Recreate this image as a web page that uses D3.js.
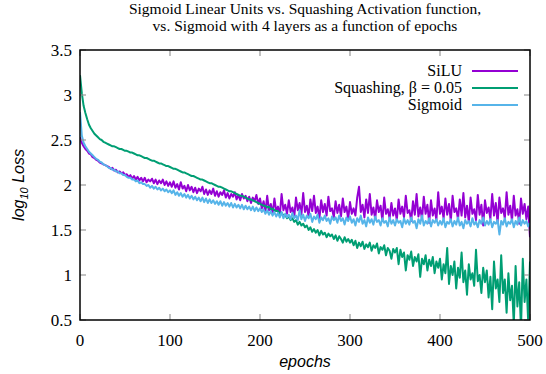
<!DOCTYPE html>
<html>
<head>
<meta charset="utf-8">
<script src="https://cdn.jsdelivr.net/npm/d3@7"></script>
<style>
  body { margin: 0; background: #fff; }
  svg { display: block; }
  .tick-label { font-family: "Liberation Serif", "Times New Roman", serif; font-size: 17px; fill: #000; }
  .legend-label { font-family: "Liberation Serif", "Times New Roman", serif; font-size: 16px; fill: #000; }
  .title { font-family: "Liberation Serif", "Times New Roman", serif; font-size: 15.5px; fill: #000; }
  .axis-title { font-family: "Liberation Sans", Arial, sans-serif; font-size: 16px; font-style: italic; fill: #000; }
</style>
</head>
<body>
<svg width="546" height="374"></svg>
<script>
// epochs sampled every 2
var epochs = d3.range(0, 501, 2);

var seriesNames = ["SiLU", "Squashing, \u03b2 = 0.05", "Sigmoid"];
var seriesColors = ["#9400d3", "#009e73", "#56b4e9"];

var silu = [
  2.53,2.47,2.43,2.40,2.38,2.35,2.34,2.31,2.30,2.28,2.27,2.25,2.24,2.23,2.22,2.21,2.20,2.18,2.19,2.16,2.17,2.14,2.15,2.13,2.14,
  2.11,2.12,2.09,2.11,2.07,2.10,2.06,2.09,2.05,2.08,2.04,2.08,2.03,2.06,2.04,2.07,2.02,2.06,2.01,2.05,2.02,2.06,2.00,2.04,1.99,
  2.03,1.98,2.04,1.97,2.01,1.95,2.03,1.96,1.99,1.93,2.00,1.94,1.98,1.92,1.97,1.91,1.96,1.93,1.98,1.90,1.95,1.89,1.94,1.90,1.96,
  1.88,1.93,1.87,1.92,1.89,1.94,1.86,1.91,1.85,1.90,1.87,1.92,1.84,1.89,1.83,1.90,1.85,1.88,1.82,1.87,1.80,1.86,1.82,1.89,1.79,
  1.85,1.74,1.82,1.70,1.88,1.72,1.79,1.68,1.85,1.71,1.76,1.66,1.90,1.72,1.78,1.68,1.83,1.70,1.75,1.64,1.86,1.72,1.80,1.67,1.91,
  1.70,1.77,1.65,1.84,1.71,1.88,1.69,1.76,1.63,1.83,1.70,1.79,1.66,1.87,1.71,1.74,1.64,1.82,1.69,1.78,1.65,1.85,1.70,1.76,1.62,
  1.81,1.68,1.74,1.66,1.86,1.98,1.70,1.78,1.64,1.84,1.69,1.90,1.67,1.75,1.62,1.83,1.70,1.77,1.60,1.86,1.68,1.73,1.63,1.80,1.66,
  1.74,1.61,1.84,1.68,1.76,1.64,1.88,1.69,1.72,1.60,1.82,1.67,1.90,1.65,1.75,1.62,1.87,1.68,1.78,1.58,1.83,1.66,1.74,1.61,1.92,
  1.68,1.76,1.63,1.85,1.67,1.79,1.60,1.88,1.70,1.74,1.62,1.84,1.66,1.91,1.64,1.77,1.59,1.86,1.68,1.73,1.61,1.89,1.67,1.78,1.55,
  1.83,1.69,1.75,1.62,1.90,1.66,1.80,1.58,1.86,1.69,1.74,1.63,1.92,1.67,1.77,1.60,1.88,1.66,1.73,1.57,1.85,1.68,1.79,1.62,1.76,
  1.42
];

var squashing = [
  3.22,3.02,2.88,2.80,2.73,2.67,2.63,2.60,2.57,2.55,2.53,2.51,2.50,2.48,2.47,2.46,2.45,2.44,2.43,2.43,2.42,2.41,2.40,2.40,2.39,
  2.38,2.38,2.37,2.36,2.36,2.35,2.34,2.33,2.33,2.32,2.31,2.30,2.30,2.29,2.28,2.27,2.27,2.26,2.25,2.24,2.24,2.23,2.22,2.21,2.21,
  2.20,2.19,2.18,2.18,2.17,2.16,2.15,2.14,2.14,2.13,2.12,2.11,2.10,2.10,2.09,2.08,2.07,2.06,2.06,2.05,2.04,2.03,2.02,2.02,2.01,
  2.00,1.99,1.98,1.98,1.97,1.96,1.95,1.94,1.93,1.93,1.92,1.91,1.90,1.89,1.88,1.88,1.87,1.86,1.85,1.84,1.84,1.83,1.82,1.81,1.80,
  1.79,1.78,1.77,1.77,1.75,1.76,1.73,1.74,1.72,1.71,1.71,1.68,1.69,1.66,1.67,1.63,1.65,1.61,1.63,1.59,1.61,1.56,1.59,1.55,1.57,
  1.53,1.55,1.50,1.53,1.48,1.51,1.47,1.50,1.44,1.49,1.45,1.47,1.42,1.46,1.43,1.45,1.40,1.44,1.38,1.43,1.40,1.36,1.42,1.37,1.40,
  1.36,1.39,1.33,1.38,1.30,1.36,1.32,1.37,1.29,1.34,1.31,1.36,1.27,1.33,1.30,1.35,1.24,1.31,1.28,1.33,1.22,1.30,1.27,1.18,1.29,
  1.25,1.30,1.12,1.28,1.20,1.25,1.05,1.22,1.17,1.26,1.10,1.20,1.15,1.23,0.98,1.18,1.12,1.22,1.05,1.17,1.10,1.20,1.02,1.15,1.08,
  1.18,0.95,1.12,1.02,1.30,0.90,1.10,1.00,1.15,0.85,1.08,0.97,1.25,0.92,1.05,0.78,1.12,0.95,1.02,0.88,1.28,0.93,1.00,0.80,1.08,
  0.92,1.05,0.75,0.98,0.62,1.15,0.85,0.95,0.70,1.22,0.80,0.95,0.58,1.02,0.72,0.88,0.45,1.10,0.65,0.92,0.40,1.18,0.70,0.95,0.48,
  1.15
];

var sigmoid = [
  2.81,2.55,2.47,2.43,2.40,2.37,2.35,2.33,2.31,2.29,2.28,2.26,2.25,2.23,2.22,2.21,2.19,2.19,2.17,2.17,2.15,2.15,2.13,2.13,2.11,
  2.11,2.09,2.08,2.08,2.06,2.06,2.04,2.05,2.02,2.03,2.01,2.01,1.99,2.00,1.97,1.99,1.96,1.98,1.95,1.97,1.94,1.96,1.93,1.95,1.92,
  1.94,1.91,1.94,1.89,1.92,1.88,1.91,1.87,1.90,1.86,1.89,1.85,1.88,1.84,1.87,1.83,1.86,1.82,1.86,1.81,1.85,1.80,1.84,1.80,1.83,
  1.79,1.82,1.78,1.82,1.77,1.81,1.77,1.80,1.76,1.80,1.75,1.79,1.75,1.78,1.74,1.78,1.73,1.77,1.73,1.76,1.72,1.76,1.71,1.75,1.71,
  1.74,1.70,1.73,1.68,1.72,1.67,1.71,1.66,1.70,1.65,1.69,1.64,1.70,1.63,1.68,1.64,1.67,1.62,1.69,1.63,1.66,1.61,1.72,1.62,1.67,
  1.60,1.66,1.63,1.68,1.59,1.65,1.62,1.67,1.58,1.64,1.61,1.66,1.60,1.63,1.57,1.65,1.61,1.64,1.58,1.66,1.60,1.63,1.56,1.64,1.60,
  1.65,1.58,1.62,1.55,1.63,1.59,1.66,1.57,1.61,1.54,1.64,1.58,1.62,1.56,1.65,1.59,1.61,1.55,1.63,1.58,1.60,1.54,1.64,1.57,1.61,
  1.55,1.62,1.58,1.60,1.53,1.63,1.57,1.61,1.56,1.64,1.58,1.60,1.52,1.62,1.57,1.66,1.55,1.60,1.57,1.63,1.54,1.61,1.58,1.62,1.55,
  1.60,1.56,1.63,1.53,1.59,1.57,1.62,1.54,1.60,1.56,1.64,1.55,1.59,1.52,1.61,1.57,1.60,1.54,1.63,1.56,1.59,1.53,1.61,1.57,1.64,
  1.55,1.60,1.56,1.62,1.53,1.59,1.57,1.61,1.45,1.60,1.56,1.63,1.54,1.59,1.57,1.62,1.53,1.60,1.56,1.64,1.55,1.61,1.57,1.60,1.54,
  1.58
];

var xTicks = [0, 100, 200, 300, 400, 500];
var yTicks = [0.5, 1, 1.5, 2, 2.5, 3, 3.5];
var titleLines = ["Sigmoid Linear Units vs. Squashing Activation function,",
                  "vs. Sigmoid with 4 layers as a function of epochs"];

var svg = d3.select("svg");
var pl = 80, pr = 530, pt = 50, pb = 320;

var x = d3.scaleLinear().domain([0, 500]).range([pl, pr]);
var y = d3.scaleLinear().domain([0.5, 3.5]).range([pb, pt]);

// title
svg.selectAll(".title")
  .data(titleLines)
  .enter().append("text")
  .attr("class", "title")
  .attr("x", (pl + pr) / 2)
  .attr("y", function(d, i) { return 14 + i * 17; })
  .attr("text-anchor", "middle")
  .text(function(d) { return d; });

// clip for data
svg.append("clipPath").attr("id", "plot")
  .append("rect")
  .attr("x", pl).attr("y", pt)
  .attr("width", pr - pl).attr("height", pb - pt);

var line = d3.line()
  .x(function(d, i) { return x(epochs[i]); })
  .y(function(d) { return y(d); });

var allSeries = [silu, squashing, sigmoid];

svg.append("g")
  .attr("clip-path", "url(#plot)")
  .selectAll("path")
  .data(allSeries)
  .enter().append("path")
  .attr("d", line)
  .attr("fill", "none")
  .attr("stroke", function(d, i) { return seriesColors[i]; })
  .attr("stroke-width", 2)
  .attr("stroke-linejoin", "round");

// ticks (inward, mirrored)
var ticks = svg.append("g").attr("stroke", "#999").attr("stroke-width", 1.2);
xTicks.forEach(function(t) {
  ticks.append("line").attr("x1", x(t)).attr("x2", x(t)).attr("y1", pb).attr("y2", pb - 6);
  ticks.append("line").attr("x1", x(t)).attr("x2", x(t)).attr("y1", pt).attr("y2", pt + 6);
});
yTicks.forEach(function(t) {
  ticks.append("line").attr("x1", pl).attr("x2", pl + 6).attr("y1", y(t)).attr("y2", y(t));
  ticks.append("line").attr("x1", pr).attr("x2", pr - 6).attr("y1", y(t)).attr("y2", y(t));
});

// border
svg.append("rect")
  .attr("x", pl).attr("y", pt)
  .attr("width", pr - pl).attr("height", pb - pt)
  .attr("fill", "none")
  .attr("stroke", "#000")
  .attr("stroke-width", 1.5);

// tick labels
svg.selectAll(".xl")
  .data(xTicks)
  .enter().append("text")
  .attr("class", "tick-label")
  .attr("x", function(d) { return x(d); })
  .attr("y", pb + 26)
  .attr("text-anchor", "middle")
  .text(function(d) { return d; });

svg.selectAll(".yl")
  .data(yTicks)
  .enter().append("text")
  .attr("class", "tick-label")
  .attr("x", pl - 8)
  .attr("y", function(d) { return y(d) + 6; })
  .attr("text-anchor", "end")
  .text(function(d) { return d; });

// axis titles
svg.append("text")
  .attr("class", "axis-title")
  .attr("x", (pl + pr) / 2)
  .attr("y", 367)
  .attr("text-anchor", "middle")
  .text("epochs");

var yt = svg.append("text")
  .attr("class", "axis-title")
  .attr("transform", "translate(24," + ((pt + pb) / 2) + ") rotate(-90)")
  .attr("text-anchor", "middle");
yt.append("tspan").text("log");
yt.append("tspan").attr("font-size", "11px").attr("dy", 4).text("10");
yt.append("tspan").attr("dy", -4).text(" Loss");

// legend
var legend = svg.append("g");
seriesNames.forEach(function(name, i) {
  var ly = 71 + i * 17;
  legend.append("text")
    .attr("class", "legend-label")
    .attr("x", 462)
    .attr("y", ly + 5)
    .attr("text-anchor", "end")
    .text(name);
  legend.append("line")
    .attr("x1", 472).attr("x2", 518)
    .attr("y1", ly).attr("y2", ly)
    .attr("stroke", seriesColors[i])
    .attr("stroke-width", 2);
});
</script>
</body>
</html>
